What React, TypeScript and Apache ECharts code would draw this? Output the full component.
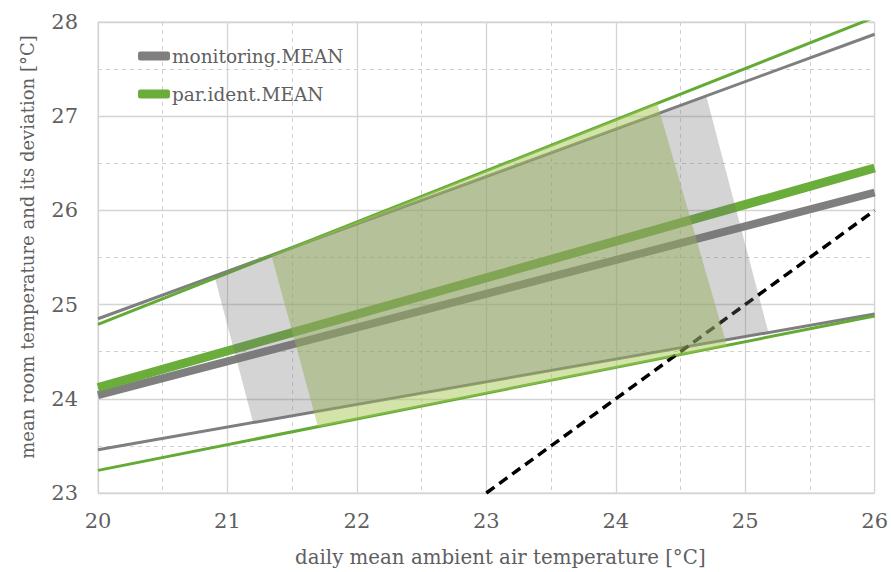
import React, { useEffect, useRef } from "react";
import * as echarts from "echarts";

const monitoringMean: number[][] = [[20, 24.04], [26, 26.19]];
const parIdentMean: number[][] = [[20, 24.12], [26, 26.45]];
const monitoringUpper: number[][] = [[20, 24.85], [26, 27.87]];
const monitoringLower: number[][] = [[20, 23.46], [26, 24.9]];
const parIdentUpper: number[][] = [[20, 24.79], [26, 28.05]];
const parIdentLower: number[][] = [[20, 23.24], [26, 24.88]];
const comfortLimit: number[][] = [[23, 23], [26, 26]];
const monitoringRange: number[][] = [[20.9, 25.3], [24.7, 27.21], [25.18, 24.7], [21.2, 23.74]];
const parIdentRange: number[][] = [[21.34, 25.52], [24.32, 27.14], [24.86, 24.56], [21.7, 23.7]];

const FONT = "DejaVu Serif";
const TXT = "#5f5f5f";

function polygonSeries(pts: number[][], color: string, z: number) {
  return {
    type: "custom",
    z,
    silent: true,
    data: pts,
    renderItem: (params: any, api: any) => {
      if (params.dataIndex !== 0) return null;
      return {
        type: "polygon",
        shape: { points: pts.map((p) => api.coord(p)) },
        style: { fill: color, stroke: "none" },
      };
    },
  };
}

function lineSeries(name: string, data: number[][], color: string, width: number, z = 2, type: any = "solid") {
  return {
    name,
    type: "line",
    data,
    z,
    symbol: "none",
    showSymbol: false,
    clip: true,
    lineStyle: { color, width, type, cap: "butt" },
    itemStyle: { color },
  };
}

export default function App() {
  const ref = useRef<HTMLDivElement>(null);
  useEffect(() => {
    const chart = echarts.init(ref.current!, null, { renderer: "svg" });
    chart.setOption({
      animation: false,
      backgroundColor: "#ffffff",
      grid: { left: 98, right: 16, top: 22, bottom: 73, show: true, borderColor: "#d4d4d4", borderWidth: 1 },
      legend: {
        data: ["monitoring.MEAN", "par.ident.MEAN"],
        orient: "vertical",
        left: 133,
        top: 41,
        icon: "roundRect",
        itemWidth: 32,
        itemHeight: 9,
        itemGap: 18,
        textStyle: { fontFamily: FONT, fontSize: 18.5, color: TXT, lineHeight: 20, padding: [0, 0, 0, -3] },
      },
      xAxis: {
        type: "value",
        min: 20,
        max: 26,
        interval: 1,
        name: "daily mean ambient air temperature [°C]",
        nameLocation: "middle",
        nameGap: 54,
        nameTextStyle: { fontFamily: FONT, fontSize: 19.8, color: TXT, padding: [0, 0, 0, 28] },
        axisLine: { show: false },
        axisTick: { show: false },
        axisLabel: { fontFamily: FONT, fontSize: 21, color: TXT, margin: 17 },
        splitLine: { show: true, lineStyle: { color: "#d4d4d4", width: 1.3 } },
        minorTick: { show: false, splitNumber: 2 },
        minorSplitLine: { show: true, lineStyle: { color: "#cfcfcf", width: 1, type: [4, 4] } },
      },
      yAxis: {
        type: "value",
        min: 23,
        max: 28,
        interval: 1,
        name: "mean room temperature and its deviation [°C]",
        nameLocation: "middle",
        nameGap: 62,
        nameTextStyle: { fontFamily: FONT, fontSize: 18, color: TXT, padding: [0, 0, 0, 21] },
        axisLine: { show: false },
        axisTick: { show: false },
        axisLabel: { fontFamily: FONT, fontSize: 21, color: TXT, margin: 20 },
        splitLine: { show: true, lineStyle: { color: "#d4d4d4", width: 1.3 } },
        minorTick: { show: false, splitNumber: 2 },
        minorSplitLine: { show: true, lineStyle: { color: "#cfcfcf", width: 1, type: [4, 4] } },
      },
      series: [
        lineSeries("monitoring.MEAN", monitoringMean, "#7f7f7f", 8),
        lineSeries("par.ident.MEAN", parIdentMean, "#6aad3b", 9),
        lineSeries("monitoring.upper", monitoringUpper, "#7f7f7f", 3),
        lineSeries("monitoring.lower", monitoringLower, "#7f7f7f", 3),
        lineSeries("par.ident.upper", parIdentUpper, "#63ab35", 3),
        lineSeries("par.ident.lower", parIdentLower, "#63ab35", 3),
        lineSeries("limit", comfortLimit, "#000000", 3.5, 2, [10, 6]),
        polygonSeries(parIdentRange, "rgba(165,201,85,0.5)", 3),
        polygonSeries(monitoringRange, "rgba(116,116,116,0.31)", 4),
      ],
    });
    return () => chart.dispose();
  }, []);
  return (
    <div
      ref={ref}
      style={{ position: "absolute", left: 0, top: 0, width: 891, height: 572 }}
    />
  );
}
